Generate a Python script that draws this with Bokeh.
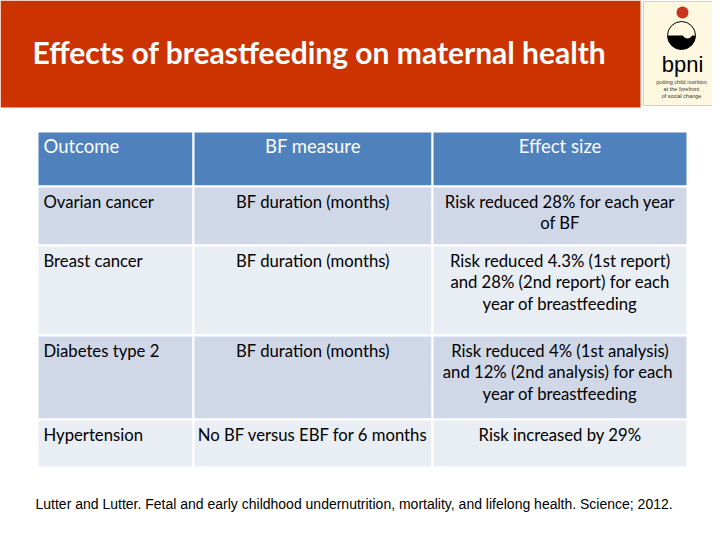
from bokeh.plotting import figure
from bokeh.models import Range1d
from bokeh.core.properties import value
from bokeh.embed import file_html
from bokeh.resources import INLINE

# ---- data ----
title = "Effects of breastfeeding on maternal health"
headers = ["Outcome", "BF measure", "Effect size"]
outcomes = ["Ovarian  cancer", "Breast cancer", "Diabetes type 2", "Hypertension"]
measures = ["BF duration (months)", "BF duration (months)", "BF duration (months)",
            "No BF versus EBF for 6 months"]
effects = [
    "Risk reduced 28% for each year\nof BF",
    "Risk reduced 4.3% (1st report)\nand 28% (2nd report) for each\nyear of breastfeeding",
    "Risk reduced 4% (1st analysis)\nand 12% (2nd analysis)  for each\nyear of breastfeeding",
    "Risk increased by 29%",
]
footer = ("Lutter and Lutter. Fetal and early childhood undernutrition, mortality, "
          "and lifelong health.  Science; 2012.")
logo_name = "bpni"
logo_tagline = ["putting child nutrition", "at the forefront", "of social change"]

# ---- layout (reference pixel coordinates) ----
col_edges = [37, 193, 432, 687]
row_edges = [131, 186, 245, 335, 419, 467]
row_colors = ["#4F81BD", "#D0D8E8", "#E9EDF4", "#D0D8E8", "#E9EDF4"]
FONT = "Lato"

p = figure(width=712, height=532, x_range=Range1d(0, 712), y_range=Range1d(532, 0),
           output_backend="svg", toolbar_location=None, min_border=0)
p.axis.visible = False
p.grid.visible = False
p.outline_line_color = None
p.background_fill_color = "white"
p.border_fill_color = "white"

# banner
p.quad(left=[0], right=[640], top=[0], bottom=[107], fill_color="#CC3300", line_color=None)
p.quad(left=[643], right=[716], top=[1], bottom=[105], fill_color="#FFF8E1",
       line_color="#D8D0C0", line_width=1)
p.text(x=[32], y=[51], text=[title], text_color="white", text_font=value(FONT),
       text_font_style="bold", text_font_size="30px", text_baseline="middle")

# logo
lx = 681
p.circle(x=[lx + 1], y=[12], radius=6, fill_color="#C8341C", line_color=None)
p.circle(x=[lx], y=[35], radius=14, fill_color=None, line_color="black", line_width=1)
p.wedge(x=[lx], y=[35], radius=14, start_angle=0, end_angle=3.1416,
        direction="clock", fill_color="black", line_color=None)
p.circle(x=[lx + 6], y=[33], radius=5, fill_color="#FFF8E1", line_color=None)
p.text(x=[lx + 1], y=[64], text=[logo_name], text_color="black",
       text_font=value("Liberation Sans"),
       text_font_size="22px", text_align="center", text_baseline="middle")
p.text(x=[lx] * 3, y=[81, 88, 95], text=logo_tagline, text_color="#333333",
       text_font=value("Liberation Sans"), text_font_size="5.5px",
       text_align="center", text_baseline="middle")

# table cells
L, R, T, B, C = [], [], [], [], []
for ri in range(len(row_edges) - 1):
    for ci in range(len(col_edges) - 1):
        L.append(col_edges[ci]); R.append(col_edges[ci + 1])
        T.append(row_edges[ri]); B.append(row_edges[ri + 1])
        C.append(row_colors[ri])
p.quad(left=L, right=R, top=T, bottom=B, fill_color=C, line_color="white", line_width=2)

# header texts
hx = [43, (col_edges[1] + col_edges[2]) / 2, (col_edges[2] + col_edges[3]) / 2]
p.text(x=hx, y=[row_edges[0] + 3] * 3, text=headers, text_color="white",
       text_font=value(FONT), text_font_size="18.5px",
       text_align=["left", "center", "center"], text_baseline="top")

# body texts
tops = [r + 5 for r in row_edges[1:-1]]
body = dict(text_color="black", text_font=value(FONT), text_font_size="16.7px",
            text_baseline="top", text_line_height=1.08)
p.text(x=[43] * 4, y=tops, text=outcomes, text_align="left", **body)
p.text(x=[hx[1]] * 4, y=tops, text=measures, text_align="center", **body)
p.text(x=[hx[2]] * 4, y=tops, text=effects, text_align="center", **body)

# footer
p.text(x=[35], y=[503], text=[footer], text_color="black",
       text_font=value("Liberation Sans"), text_font_size="14px", text_baseline="middle")

open("out.html", "w").write(file_html(p, INLINE))
